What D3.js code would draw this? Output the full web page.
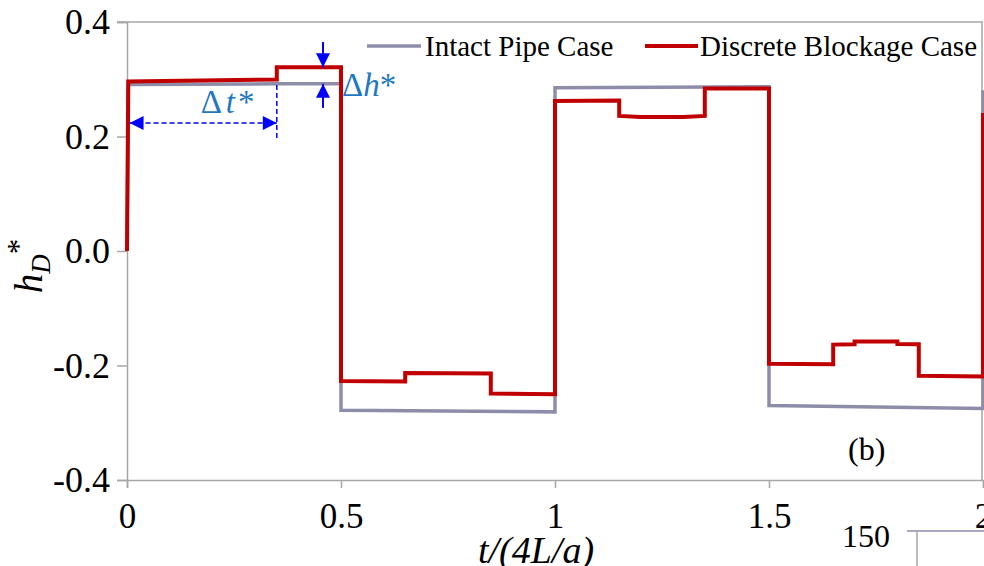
<!DOCTYPE html>
<html><head><meta charset="utf-8">
<script src="https://cdn.jsdelivr.net/npm/d3@7"></script>
<style>
html,body{margin:0;padding:0;background:#fff;overflow:hidden}
svg{display:block}
</style></head>
<body>
<svg id="c" width="984" height="566"></svg>
<script>
// ---- data ----
const xTicks = [0, 0.5, 1, 1.5, 2];
const xTickLabels = ["0", "0.5", "1", "1.5", "2"];
const yTicks = [0.4, 0.2, 0.0, -0.2, -0.4];
const yTickLabels = ["0.4", "0.2", "0.0", "-0.2", "-0.4"];
const seriesNames = ["Intact Pipe Case", "Discrete Blockage Case"];
const intactT = [0, 0.003, 0.35, 0.5, 0.5, 1.0, 1.0, 1.5, 1.5, 2.0, 2.0];
const intactH = [0, 0.291, 0.292, 0.292, -0.278, -0.281, 0.285, 0.287, -0.270, -0.275, 0.281];
const blockT = [0, 0.003, 0.35, 0.35, 0.5, 0.5, 0.65, 0.65, 0.85, 0.85, 1.0, 1.0, 1.15, 1.15, 1.2, 1.3, 1.35, 1.35, 1.5, 1.5, 1.65, 1.65, 1.7, 1.7, 1.8, 1.8, 1.85, 1.85, 2.0, 2.0];
const blockH = [0, 0.296, 0.2995, 0.321, 0.321, -0.227, -0.228, -0.213, -0.214, -0.249, -0.250, 0.262, 0.263, 0.236, 0.234, 0.234, 0.236, 0.284, 0.284, -0.197, -0.198, -0.1635, -0.163, -0.158, -0.158, -0.1625, -0.163, -0.218, -0.219, 0.241];
// annotation anchors (data units)
const dtArrow = {t0: 0.006, t1: 0.35, h: 0.2236, hTop: 0.29, hBot: 0.197, labelT: 0.235};
const dhArrow = {t: 0.458, topFrom: 0.365, topTo: 0.321, botFrom: 0.25, botTo: 0.292};

// ---- layout ----
const serif = '"Liberation Serif", "Times New Roman", "DejaVu Serif", serif';
const svg = d3.select("#c");
const x = d3.scaleLinear().domain([0, 2]).range([127, 983]);
const y = d3.scaleLinear().domain([-0.4, 0.4]).range([480, 22]);
const axisCol = "#a6a6a6";
const grayCol = "#8d8daa";
const redCol = "#c00000";
const blue = "#0000ff";
const txtBlue = "#1f78c1";

svg.append("defs").html(`
<marker id="ah" viewBox="0 0 10 10" refX="10" refY="5" markerWidth="15" markerHeight="14" markerUnits="userSpaceOnUse" orient="auto-start-reverse">
<path d="M0,0 L10,5 L0,10 z" fill="${blue}"/></marker>
<marker id="ah2" viewBox="0 0 10 10" refX="10" refY="5" markerWidth="14" markerHeight="14" markerUnits="userSpaceOnUse" orient="auto">
<path d="M0,0 L10,5 L0,10 z" fill="${blue}"/></marker>`);

// frame (top and right)
svg.append("line").attr("x1", 117).attr("x2", x(2)).attr("y1", y(0.4)).attr("y2", y(0.4))
  .attr("stroke", axisCol).attr("stroke-width", 1.5);
svg.append("line").attr("x1", x(2)-1).attr("x2", x(2)-1).attr("y1", y(0.4)).attr("y2", y(-0.4))
  .attr("stroke", axisCol).attr("stroke-width", 1.5);

// y axis
const yAxis = d3.axisLeft(y).tickValues(yTicks).tickFormat((d,i)=>yTickLabels[i]).tickSize(10).tickPadding(7);
const gy = svg.append("g").attr("transform", `translate(${x(0)},0)`).call(yAxis);
gy.select(".domain").attr("stroke", axisCol).attr("stroke-width", 1.5);
gy.selectAll(".tick line").attr("stroke", axisCol).attr("stroke-width", 1.5);
gy.selectAll(".tick text").style("font-size", "36px").attr("fill", "#000");

// x axis
const xAxis = d3.axisBottom(x).tickValues(xTicks).tickFormat((d,i)=>xTickLabels[i]).tickSize(8).tickPadding(15);
const gx = svg.append("g").attr("transform", `translate(0,${y(-0.4)})`).call(xAxis);
gx.select(".domain").attr("stroke", axisCol).attr("stroke-width", 1.5);
gx.selectAll(".tick line").attr("stroke", axisCol).attr("stroke-width", 1.5);
gx.selectAll(".tick text").style("font-size", "35px").attr("fill", "#000");

// lines
const line = d3.line().x(d=>x(d[0])).y(d=>y(d[1]));
svg.append("path").datum(intactT.map((t,i)=>[t, intactH[i]]))
  .attr("d", line).attr("fill", "none").attr("stroke", grayCol).attr("stroke-width", 3.5).attr("stroke-linejoin", "miter");
svg.append("path").datum(blockT.map((t,i)=>[t, blockH[i]]))
  .attr("d", line).attr("fill", "none").attr("stroke", redCol).attr("stroke-width", 4).attr("stroke-linejoin", "miter");

// annotations: delta t
svg.append("line").attr("x1", x(dtArrow.t0)).attr("x2", x(dtArrow.t1)).attr("y1", y(dtArrow.h)).attr("y2", y(dtArrow.h))
  .attr("stroke", blue).attr("stroke-width", 1.5).attr("stroke-dasharray", "5,3")
  .attr("marker-start", "url(#ah)").attr("marker-end", "url(#ah)");
svg.append("line").attr("x1", x(dtArrow.t1)).attr("x2", x(dtArrow.t1)).attr("y1", y(dtArrow.hTop)).attr("y2", y(dtArrow.hBot))
  .attr("stroke", blue).attr("stroke-width", 1.5).attr("stroke-dasharray", "5,3");
svg.append("text").attr("x", x(dtArrow.labelT)).attr("y", y(dtArrow.h)-10)
  .attr("text-anchor", "middle").style("font-size", "33px").attr("fill", txtBlue)
  .html('Δ<tspan font-style="italic" dx="4">t</tspan><tspan dx="3">*</tspan>');

// annotations: delta h
svg.append("line").attr("x1", x(dhArrow.t)).attr("x2", x(dhArrow.t)).attr("y1", y(dhArrow.topFrom)).attr("y2", y(dhArrow.topTo))
  .attr("stroke", blue).attr("stroke-width", 2).attr("marker-end", "url(#ah2)");
svg.append("line").attr("x1", x(dhArrow.t)).attr("x2", x(dhArrow.t)).attr("y1", y(dhArrow.botFrom)).attr("y2", y(dhArrow.botTo))
  .attr("stroke", blue).attr("stroke-width", 2).attr("marker-end", "url(#ah2)");
svg.append("text").attr("x", x(dhArrow.t)+19).attr("y", y(0.270))
  .style("font-size", "33px").attr("fill", txtBlue)
  .html('Δ<tspan font-style="italic">h</tspan>*');

// legend
const lg = svg.append("g");
lg.append("line").attr("x1", 367).attr("x2", 421).attr("y1", 46).attr("y2", 46).attr("stroke", grayCol).attr("stroke-width", 3.5);
lg.append("text").attr("x", 425).attr("y", 56).style("font-size", "29px").text(seriesNames[0]);
lg.append("line").attr("x1", 645).attr("x2", 698).attr("y1", 46).attr("y2", 46).attr("stroke", redCol).attr("stroke-width", 4);
lg.append("text").attr("x", 700).attr("y", 56).style("font-size", "29px").text(seriesNames[1]);

// (b)
svg.append("text").attr("x", 848).attr("y", 460).style("font-size", "32px").text("(b)");

// axis titles
svg.append("text").attr("x", 536).attr("y", 563).attr("text-anchor", "middle").style("font-size", "38px").attr("font-style", "italic")
  .text("t/(4L/a)");
svg.append("text").attr("transform", "translate(42,266) rotate(-90)").attr("text-anchor", "middle").style("font-size", "39px")
  .html('<tspan font-style="italic">h</tspan><tspan font-style="italic" style="font-size:27px" dy="8">D</tspan><tspan dy="-21" style="font-size:31px">*</tspan>');

// fragment of neighbouring chart
svg.append("text").attr("x", 842).attr("y", 547).style("font-size", "32px").text("150");
svg.append("line").attr("x1", 907).attr("x2", 984).attr("y1", 531).attr("y2", 531).attr("stroke", grayCol).attr("stroke-width", 1.5);
svg.append("line").attr("x1", 917).attr("x2", 917).attr("y1", 531).attr("y2", 566).attr("stroke", axisCol).attr("stroke-width", 1.5);

// font on all texts
svg.selectAll("text, tspan").style("font-family", serif);
svg.selectAll("g").attr("font-family", null);
</script>
</body></html>
